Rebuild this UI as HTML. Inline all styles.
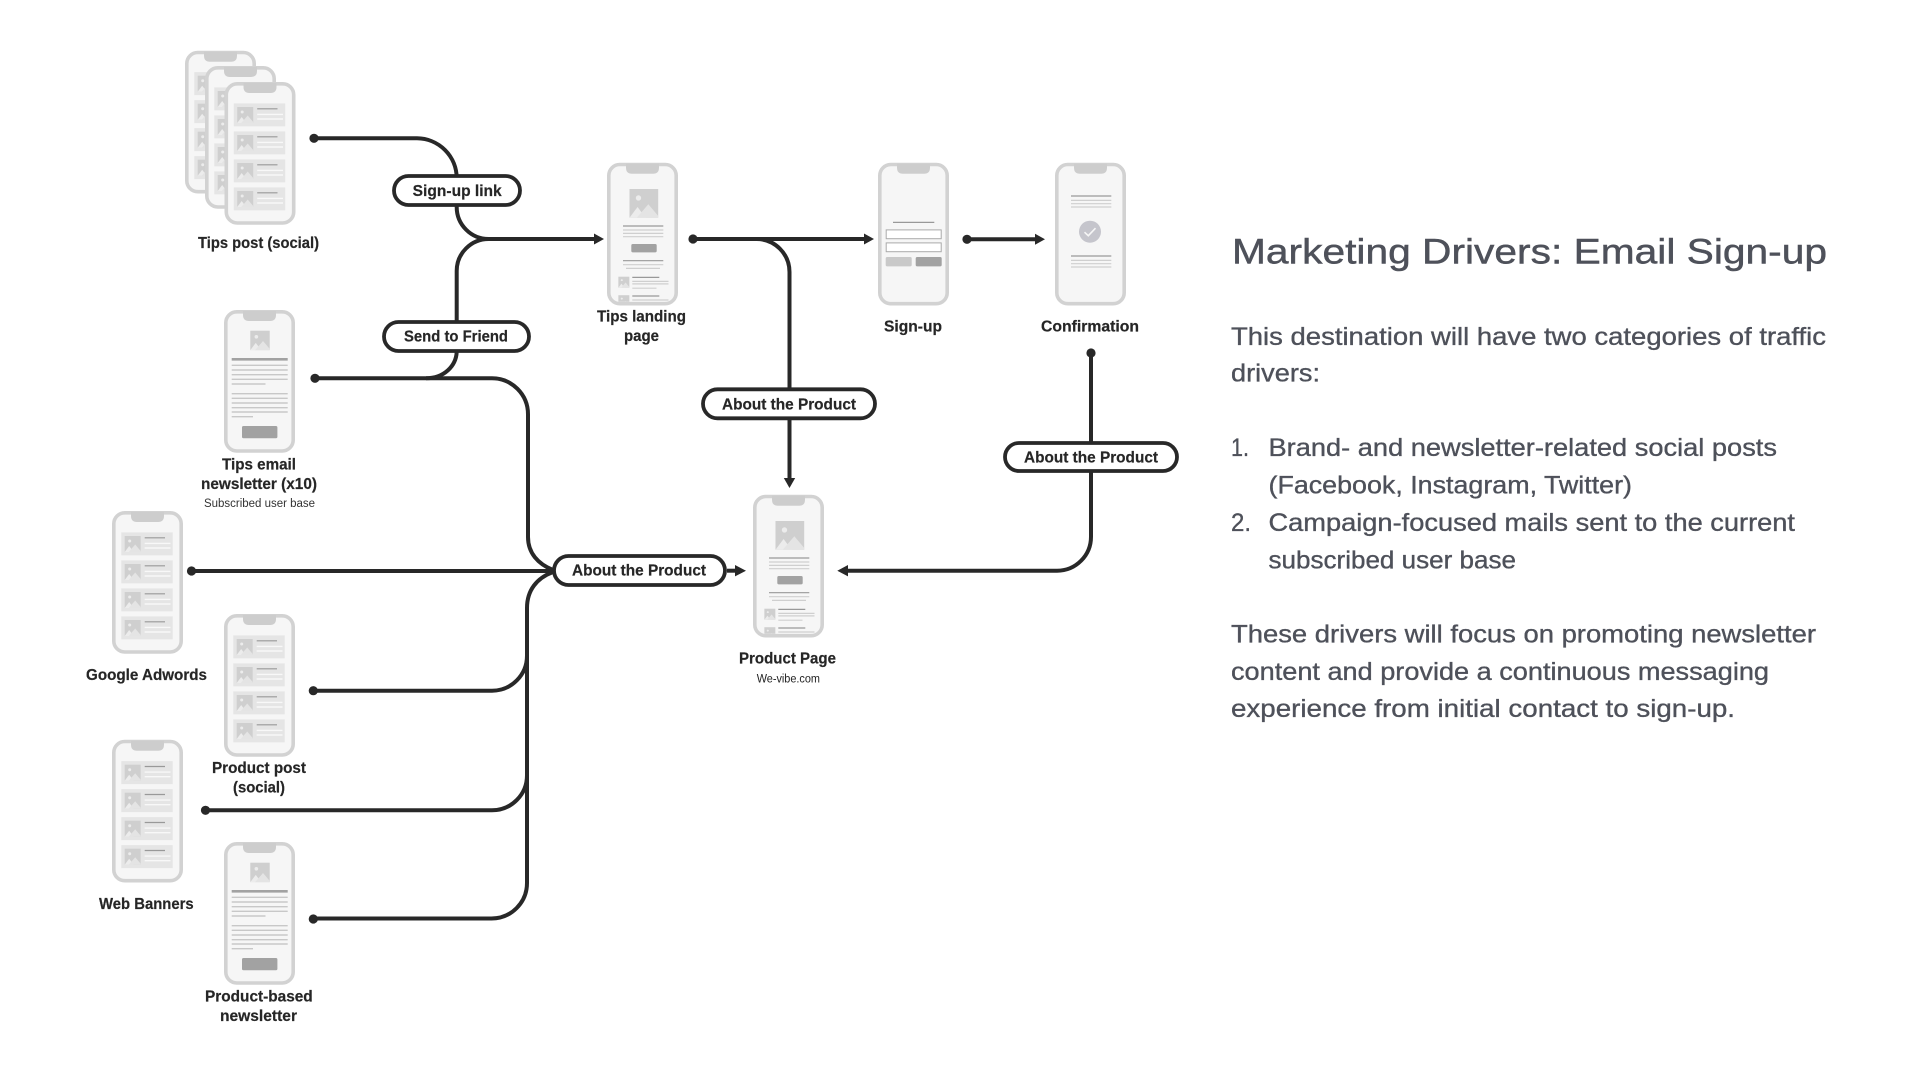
<!DOCTYPE html>
<html lang="en"><head><meta charset="utf-8"><title>Marketing Drivers: Email Sign-up</title>
<style>
html,body{margin:0;padding:0;background:#fff}
svg{display:block}
text{font-family:"Liberation Sans",Arial,sans-serif}
.l{font-weight:700;font-size:15.5px;fill:#262626;stroke:#262626;stroke-width:.2}
.s{font-size:11.5px;fill:#333}
.h{font-size:35px;fill:#4e515a;stroke:#4e515a;stroke-width:.45}
.b{font-size:25px;fill:#4e515a;stroke:#4e515a;stroke-width:.35}
.c{fill:none;stroke:#282828;stroke-width:4}
.p{fill:#fff;stroke:#282828;stroke-width:3.8}
.d{fill:#282828}
.k{stroke:#999;stroke-width:1.2}
.q{stroke:#cfcfcf;stroke-width:1.2}
</style></head><body>
<svg xmlns="http://www.w3.org/2000/svg" width="1920" height="1080" viewBox="0 0 1920 1080">
<defs>
<symbol id="img" viewBox="0 0 16 16" overflow="visible"><rect width="16" height="16" fill="#cfcfcf"/><circle cx="5" cy="5" r="1.5" fill="#ececec"/><path d="M0 16 L4.5 10 L9 16Z" fill="#ececec"/><path d="M4 16 L10.5 8.5 L16 15 V16Z" fill="#e4e4e4"/></symbol>
<g id="base"><rect x="1.8" y="1.8" width="67.4" height="139.2" rx="11" fill="#f6f6f6"/></g>
<g id="frame"><rect x="1.8" y="1.8" width="67.4" height="139.2" rx="11" fill="none" stroke="#d2d2d2" stroke-width="3.6"/><path d="M19 1 H52 V5 Q52 11 46 11 H25 Q19 11 19 5Z" fill="#cdcdcd"/></g>
<g id="row"><rect x="9.3" width="51.4" height="23" fill="#e5e5e5"/><use href="#img" x="12.7" y="3.6" width="16" height="16"/><path d="M32.7 5.4H53" class="k"/><path d="M32.7 11H58.5M32.7 15.6H58.5" stroke="#f8f8f8" stroke-width="1.4"/></g>
<g id="feed"><use href="#base"/><use href="#row" y="21.4"/><use href="#row" y="49.4"/><use href="#row" y="77.4"/><use href="#row" y="105.4"/><use href="#frame"/></g>
<g id="mail"><use href="#base"/><use href="#img" x="26.3" y="20.7" width="19.4" height="19.4"/><path d="M7.7 49.3H63.7" stroke="#a2a2a2" stroke-width="2.6"/><path d="M7.7 55.3H63.7M7.7 60H63.7M7.7 64.7H63.7M7.7 69.3H63.7M7.7 74H41.5M7.7 83.7H63.7M7.7 88.3H63.7M7.7 93H63.7M7.7 97.7H63.7M7.7 102H63.7M7.7 106.7H29" stroke="#c8c8c8" stroke-width="1.4"/><rect x="18" y="116" width="35.4" height="12.3" rx="1.5" fill="#a2a2a2"/><use href="#frame"/></g>
<clipPath id="pc"><rect x="2" y="2" width="67" height="137" rx="10"/></clipPath>
<g id="land"><use href="#base"/><g clip-path="url(#pc)"><use href="#img" x="22" y="26.3" width="29.7" height="28.7"/><path d="M16 63.3H56.3M16 98H56.3" class="k"/><path d="M16 67.3H56.3M16 70.7H56.3M16 74H56.3M16 102H56.3M19 105.7H53" class="q"/><rect x="24.3" y="81.3" width="25.4" height="8.4" rx="1.5" fill="#a2a2a2"/><use href="#img" x="11" y="114" width="11.7" height="11"/><path d="M25.3 114.7H52.3M25.3 133.3H52.3" class="k"/><path d="M25.3 118.7H61.5M25.3 121.2H61.5M25.3 125.5H49.5M25.3 137.3H61.5" class="q"/><use href="#img" x="11" y="132.5" width="11.7" height="11"/></g><use href="#frame"/></g>
<g id="sign"><use href="#base"/><path d="M15 59.7H56.3" class="k"/><rect x="8.2" y="67.2" width="55" height="8.8" fill="#fff" stroke="#aaa" stroke-width="1"/><rect x="8.2" y="80.2" width="55" height="8.8" fill="#fff" stroke="#aaa" stroke-width="1"/><rect x="7.7" y="94.3" width="26" height="9.4" rx="1.5" fill="#c9c9c9"/><rect x="37.7" y="94.3" width="26" height="9.4" rx="1.5" fill="#a2a2a2"/><use href="#frame"/></g>
<g id="conf"><use href="#base"/><path d="M16 33.3H56.3M16 93.3H56.3" class="k"/><path d="M16 37.7H56.3M16 41H56.3M16 44.3H56.3M16 97.7H56.3M16 101H56.3M16 104.3H56.3" class="q"/><circle cx="35" cy="69" r="11" fill="#c5c5cc"/><path d="M29.5 69.5L33.3 73L40.5 65.5" fill="none" stroke="#f6f6f6" stroke-width="1.6"/><use href="#frame"/></g>
</defs>

<!-- phones -->
<use href="#feed" x="185" y="50.7"/>
<use href="#feed" x="205" y="66"/>
<use href="#feed" x="224.5" y="82"/>
<use href="#land" x="607" y="162.7"/>
<use href="#sign" x="878" y="162.7"/>
<use href="#conf" x="1055" y="162.7"/>
<use href="#mail" x="224" y="310"/>
<use href="#land" x="753" y="494.7"/>
<use href="#feed" x="112" y="511"/>
<use href="#feed" x="224" y="614"/>
<use href="#feed" x="112" y="739.7"/>
<use href="#mail" x="224" y="842"/>

<!-- connectors -->
<path class="c" d="M314 138.3H417A40 40 0 0 1 456.7 178V207A32 32 0 0 0 488.7 239H597"/>
<path class="c" d="M488.7 239A32 32 0 0 0 456.7 271V352C456 366 444 378.3 426 378.3"/>
<path class="c" d="M315 378.3H492A36 36 0 0 1 528 414.3V537C528 553 538 564 553 570"/>
<path class="c" d="M191.5 571H553"/>
<path class="c" d="M553 572C537 578 527 590 527 608V883A35.5 35.5 0 0 1 491.5 918.5H313.5"/>
<path class="c" d="M527 775A35 35 0 0 1 492 810.3H205.5"/>
<path class="c" d="M527 655.5A35 35 0 0 1 492 690.7H313.5"/>
<path class="c" d="M693 239H866"/>
<path class="c" d="M756.7 239A33 33 0 0 1 789.5 272V480"/>
<path class="c" d="M967 239.3H1037"/>
<path class="c" d="M1091 353V536.7A34 34 0 0 1 1057 570.7H846"/>
<path class="c" d="M727 570.7H737"/>

<!-- dots -->
<g class="d"><circle cx="314" cy="138.3" r="4.6"/><circle cx="315" cy="378.3" r="4.6"/><circle cx="191.5" cy="571" r="4.6"/><circle cx="313.3" cy="690.7" r="4.6"/><circle cx="205.5" cy="810.3" r="4.6"/><circle cx="313.3" cy="919" r="4.6"/><circle cx="693" cy="239" r="4.6"/><circle cx="967" cy="239.3" r="4.6"/><circle cx="1091" cy="353" r="4.6"/>
<path d="M594 233.5L604 239L594 244.5Z"/><path d="M864 233.5L874 239L864 244.5Z"/><path d="M1035 233.8L1045 239.3L1035 244.8Z"/><path d="M735 565L746 570.7L735 576.4Z"/><path d="M848 565L837.3 570.7L848 576.4Z"/><path d="M783.8 478L789.5 488L795.2 478Z"/></g>

<!-- pills -->
<rect class="p" x="394" y="176" width="126" height="29" rx="14.5"/>
<rect class="p" x="384" y="322" width="145" height="29" rx="14.5"/>
<rect class="p" x="554" y="556" width="171" height="29" rx="14.5"/>
<rect class="p" x="703" y="389.3" width="172" height="29" rx="14.5"/>
<rect class="p" x="1005" y="443" width="172" height="28" rx="14"/>

<!-- pill labels -->
<text class="l" x="412.7" y="196" textLength="89" lengthAdjust="spacingAndGlyphs">Sign-up link</text>
<text class="l" x="404" y="341.7" textLength="104" lengthAdjust="spacingAndGlyphs">Send to Friend</text>
<text class="l" x="572" y="575.7" textLength="134" lengthAdjust="spacingAndGlyphs">About the Product</text>
<text class="l" x="722" y="409.5" textLength="134" lengthAdjust="spacingAndGlyphs">About the Product</text>
<text class="l" x="1024" y="462.5" textLength="134" lengthAdjust="spacingAndGlyphs">About the Product</text>

<!-- node labels -->
<text class="l" x="198" y="248" textLength="121" lengthAdjust="spacingAndGlyphs">Tips post (social)</text>
<text class="l" x="597" y="321.7" textLength="89" lengthAdjust="spacingAndGlyphs">Tips landing</text>
<text class="l" x="624" y="341" textLength="35" lengthAdjust="spacingAndGlyphs">page</text>
<text class="l" x="884" y="331.7" textLength="58" lengthAdjust="spacingAndGlyphs">Sign-up</text>
<text class="l" x="1041" y="331.7" textLength="98" lengthAdjust="spacingAndGlyphs">Confirmation</text>
<text class="l" x="222" y="469.5" textLength="74" lengthAdjust="spacingAndGlyphs">Tips email</text>
<text class="l" x="201" y="489" textLength="116" lengthAdjust="spacingAndGlyphs">newsletter (x10)</text>
<text class="s" x="204" y="507" textLength="111" lengthAdjust="spacingAndGlyphs">Subscribed user base</text>
<text class="l" x="739" y="663.7" textLength="97" lengthAdjust="spacingAndGlyphs">Product Page</text>
<text x="756.7" y="682.5" font-size="11.5" fill="#222" textLength="63.3" lengthAdjust="spacingAndGlyphs">We-vibe.com</text>
<text class="l" x="86" y="680" textLength="121" lengthAdjust="spacingAndGlyphs">Google Adwords</text>
<text class="l" x="212" y="773" textLength="94" lengthAdjust="spacingAndGlyphs">Product post</text>
<text class="l" x="233" y="792.7" textLength="52" lengthAdjust="spacingAndGlyphs">(social)</text>
<text class="l" x="99" y="909" textLength="94.7" lengthAdjust="spacingAndGlyphs">Web Banners</text>
<text class="l" x="205" y="1001.7" textLength="107.7" lengthAdjust="spacingAndGlyphs">Product-based</text>
<text class="l" x="220" y="1021" textLength="77" lengthAdjust="spacingAndGlyphs">newsletter</text>

<!-- right text -->
<text class="h" x="1232" y="263.3" textLength="595" lengthAdjust="spacingAndGlyphs">Marketing Drivers: Email Sign-up</text>
<text class="b" x="1231" y="345" textLength="595" lengthAdjust="spacingAndGlyphs">This destination will have two categories of traffic</text>
<text class="b" x="1231" y="381.7" textLength="89" lengthAdjust="spacingAndGlyphs">drivers:</text>
<text class="b" x="1231" y="456" textLength="18" lengthAdjust="spacingAndGlyphs">1.</text>
<text class="b" x="1268.5" y="456" textLength="508.5" lengthAdjust="spacingAndGlyphs">Brand- and newsletter-related social posts</text>
<text class="b" x="1268.5" y="493.3" textLength="363.5" lengthAdjust="spacingAndGlyphs">(Facebook, Instagram, Twitter)</text>
<text class="b" x="1231" y="531" textLength="20" lengthAdjust="spacingAndGlyphs">2.</text>
<text class="b" x="1268.5" y="531" textLength="526.5" lengthAdjust="spacingAndGlyphs">Campaign-focused mails sent to the current</text>
<text class="b" x="1268.5" y="568.3" textLength="247.5" lengthAdjust="spacingAndGlyphs">subscribed user base</text>
<text class="b" x="1231" y="642.5" textLength="585" lengthAdjust="spacingAndGlyphs">These drivers will focus on promoting newsletter</text>
<text class="b" x="1231" y="680" textLength="538" lengthAdjust="spacingAndGlyphs">content and provide a continuous messaging</text>
<text class="b" x="1231" y="717" textLength="504" lengthAdjust="spacingAndGlyphs">experience from initial contact to sign-up.</text>
</svg>
</body></html>
